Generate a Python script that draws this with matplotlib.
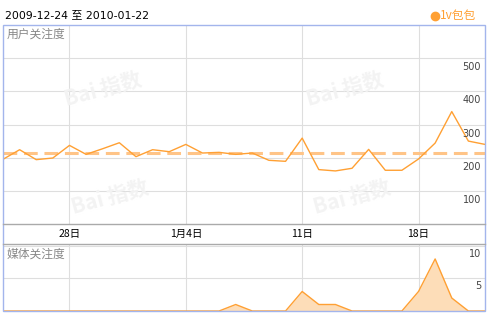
import matplotlib
matplotlib.use('Agg')
import matplotlib.pyplot as plt
from matplotlib.patches import Rectangle
from matplotlib.lines import Line2D
import numpy as np
import pandas as pd

plt.rcParams['font.family'] = ['Noto Sans CJK SC', 'DejaVu Sans']

# data
dates = pd.date_range('2009-12-24', '2010-01-22')
user_attention = [195, 224, 194, 199, 237, 210, 227, 245, 203, 224,
                  218, 240, 214, 216, 210, 214, 192, 189, 259, 164,
                  160, 168, 225, 162, 162, 196, 244, 339, 250, 240]
media_attention = [0, 0, 0, 0, 0, 0, 0, 0, 0, 0,
                   0, 0, 0, 0, 1, 0, 0, 0, 3, 1,
                   1, 0, 0, 0, 0, 3, 8, 2, 0, 0]
user_ticks = [100, 200, 300, 400, 500]
media_ticks = [5, 10]
x_tick_dates = ['2009-12-28', '2010-01-04', '2010-01-11', '2010-01-18']
x_tick_labels = ['28日', '1月4日', '11日', '18日']
title = '2009-12-24 至 2010-01-22'
legend_label = '1v包包'

W, H = 489, 317
line_c = '#FFA033'
dash_c = '#FFC487'
fill_c = '#FDDDB8'
grid_c = '#DEDEDE'
blue = '#A3B5EC'

fig = plt.figure(figsize=(W / 100, H / 100), dpi=100)


def px_axes(x0, y0, x1, y1):
    return fig.add_axes([x0 / W, 1 - y1 / H, (x1 - x0) / W, (y1 - y0) / H])


ax1 = px_axes(3, 25, 485, 224)
ax2 = px_axes(3, 244, 485, 311)
x = np.arange(len(dates))

for ax in (ax1, ax2):
    ax.set_xlim(0, len(dates) - 1)
    for s in ax.spines.values():
        s.set_visible(False)
    ax.tick_params(length=0)
    ax.set_yticks([])

tick_pos = [list(dates).index(pd.Timestamp(d)) for d in x_tick_dates]

# faint watermarks
for (wx, wy) in [(103, 90), (345, 90), (110, 198), (352, 198)]:
    fig.text(wx / W, 1 - wy / H, 'Bai 指数', color='#F3F3F3', fontsize=15,
             fontweight='bold', rotation=15, ha='center', va='center', zorder=0)

# top panel
ax1.set_ylim(0, 600)
for v in user_ticks:
    ax1.axhline(v, color=grid_c, lw=0.8, zorder=1)
for p in tick_pos:
    ax1.axvline(p, color=grid_c, lw=0.8, zorder=1)
ax1.plot(x, user_attention, color=line_c, lw=1.0, zorder=3)
ax1.axhline(np.mean(user_attention), color=dash_c, lw=2.2, dashes=(4.5, 2.2), zorder=2)
for v in user_ticks:
    ax1.annotate(str(v), xy=(0.992, v), xycoords=ax1.get_yaxis_transform(),
                 xytext=(0, -6.5), textcoords='offset points', ha='right', va='center',
                 fontsize=7, color='#444444', family='DejaVu Sans')
ax1.text(4 / 482, 1 - 9 / 199, '用户关注度', transform=ax1.transAxes, fontsize=8.5,
         color='#888888', ha='left', va='center')
ax1.set_xticks(tick_pos)
ax1.set_xticklabels(x_tick_labels, fontsize=7.5, color='#000000')
ax1.tick_params(axis='x', pad=3.5)

# bottom panel
ax2.set_ylim(0, 10.3)
for v in media_ticks:
    ax2.axhline(v, color=grid_c, lw=0.8, zorder=1)
for p in tick_pos:
    ax2.axvline(p, color=grid_c, lw=0.8, zorder=1)
ax2.fill_between(x, media_attention, 0, color=fill_c, lw=0, zorder=2)
ax2.plot(x, media_attention, color=line_c, lw=1.0, zorder=3)
for v in media_ticks:
    ax2.annotate(str(v), xy=(0.992, v), xycoords=ax2.get_yaxis_transform(),
                 xytext=(0, -5.5), textcoords='offset points', ha='right', va='center',
                 fontsize=7, color='#444444', family='DejaVu Sans')
ax2.text(4 / 482, 1 - 10 / 67, '媒体关注度', transform=ax2.transAxes, fontsize=8.5,
         color='#888888', ha='left', va='center')
ax2.set_xticks([])

# frame and separators
fig.add_artist(Rectangle((3 / W, 1 - 311 / H), 482 / W, 286 / H, transform=fig.transFigure,
                         fill=False, edgecolor=blue, lw=1.0, zorder=5))
for yy in (224, 244):
    fig.add_artist(Line2D([3 / W, 485 / W], [1 - yy / H, 1 - yy / H], transform=fig.transFigure,
                          color='#AAAAAA', lw=1.0, zorder=5))

# title and legend
fig.text(5 / W, 1 - 15 / H, title, fontsize=7.8, color='#000000', ha='left', va='center',
         family=['DejaVu Sans', 'Noto Sans CJK SC'])
fig.add_artist(Line2D([435 / W], [1 - 16 / H], marker='o', markersize=6, color=line_c,
                      transform=fig.transFigure, lw=0))
fig.text(440 / W, 1 - 15.5 / H, legend_label, fontsize=8.5, color=line_c, ha='left', va='center')

fig.savefig('out.png', dpi=100)
